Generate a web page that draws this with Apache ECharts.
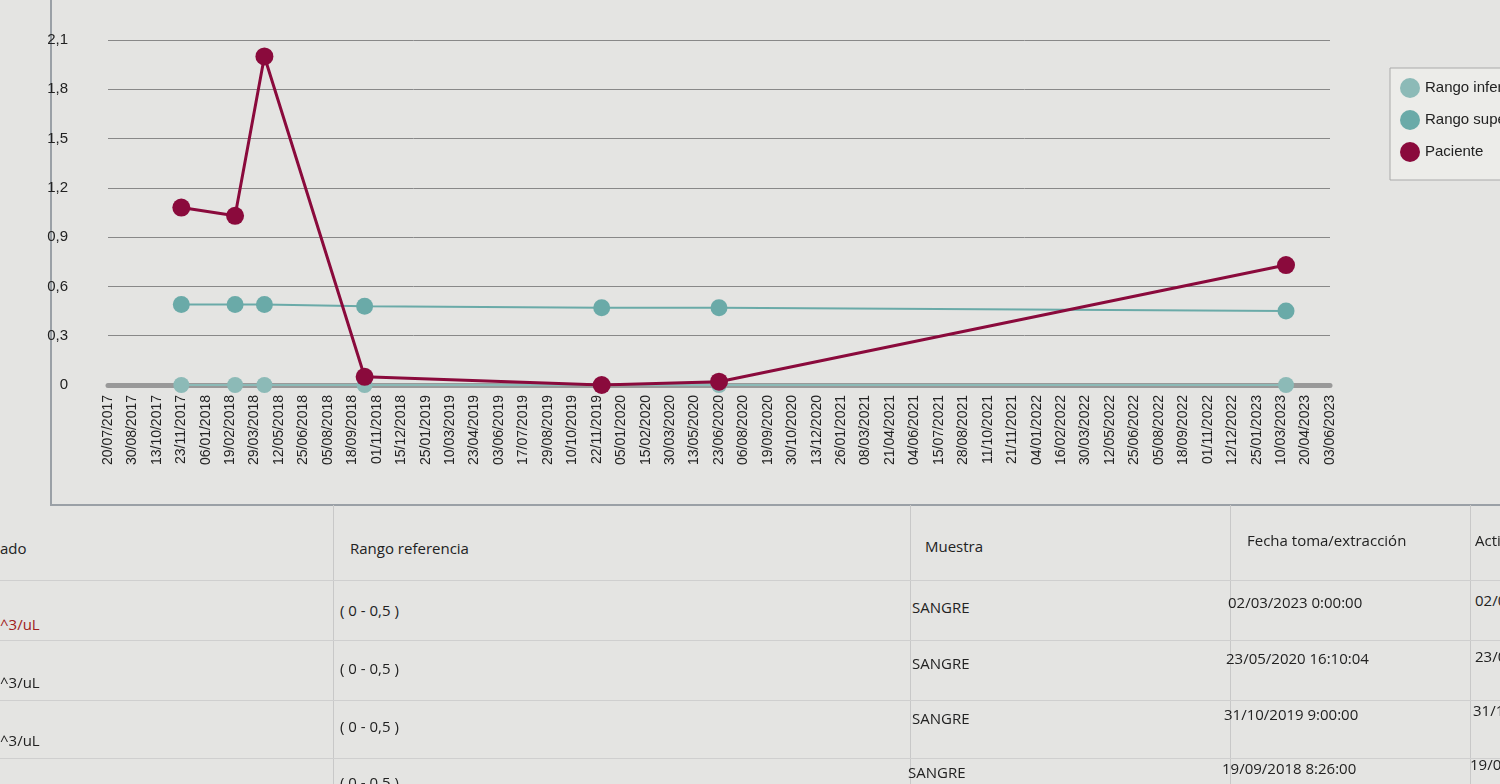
<!DOCTYPE html>
<html>
<head>
<meta charset="utf-8">
<script src="https://cdn.jsdelivr.net/npm/echarts@6/dist/echarts.min.js"></script>
<style>
 body { margin: 0; background: #e4e4e2; font-family: "Open Sans", "DejaVu Sans", sans-serif; overflow: hidden; }
 #main { position: absolute; left: 0; top: 0; width: 1500px; height: 510px; }
 #frame { position: absolute; left: 50px; top: -2px; width: 1460px; height: 508px; border: 2px solid #9aa0a6; box-sizing: border-box; }
 .t { position: absolute; font-size: 15px; color: #222; white-space: nowrap; }
 .v { position: absolute; width: 1px; background: #c8c8c8; top: 505px; height: 280px; }
 .h { position: absolute; height: 1px; background: #cfcfcf; left: 0; width: 1500px; }
</style>
</head>
<body>
<div id="frame"></div>
<div id="main"></div>
<div class="v" style="left:333px"></div><div class="v" style="left:910px"></div>
<div class="v" style="left:1230px"></div><div class="v" style="left:1470px"></div>
<div class="h" style="top:580px"></div><div class="h" style="top:640px"></div>
<div class="h" style="top:700px"></div><div class="h" style="top:758px"></div>
<div class="t" style="left:0;top:538px">ado</div>
<div class="t" style="left:350px;top:538px">Rango referencia</div>
<div class="t" style="left:925px;top:536px">Muestra</div>
<div class="t" style="left:1247px;top:530px">Fecha toma/extracción</div>
<div class="t" style="left:1475px;top:530px">Acti</div>
<div class="t" style="left:0;top:614px;color:#a02020">^3/uL</div>
<div class="t" style="left:0;top:672px">^3/uL</div>
<div class="t" style="left:0;top:730px">^3/uL</div>
<div class="t" style="left:340px;top:600px">( 0 - 0,5 )</div>
<div class="t" style="left:340px;top:658px">( 0 - 0,5 )</div>
<div class="t" style="left:340px;top:716px">( 0 - 0,5 )</div>
<div class="t" style="left:340px;top:772px">( 0 - 0,5 )</div>
<div class="t" style="left:912px;top:597px">SANGRE</div>
<div class="t" style="left:912px;top:653px">SANGRE</div>
<div class="t" style="left:912px;top:708px">SANGRE</div>
<div class="t" style="left:908px;top:762px">SANGRE</div>
<div class="t" style="left:1228px;top:592px">02/03/2023 0:00:00</div>
<div class="t" style="left:1226px;top:648px">23/05/2020 16:10:04</div>
<div class="t" style="left:1224px;top:704px">31/10/2019 9:00:00</div>
<div class="t" style="left:1222px;top:758px">19/09/2018 8:26:00</div>
<div class="t" style="left:1475px;top:590px">02/03/</div>
<div class="t" style="left:1475px;top:646px">23/05/</div>
<div class="t" style="left:1473px;top:700px">31/10/</div>
<div class="t" style="left:1470px;top:754px">19/09/</div>
<script>
var fechas = ['20/07/2017','30/08/2017','13/10/2017','23/11/2017','06/01/2018','19/02/2018','29/03/2018','12/05/2018','25/06/2018','05/08/2018','18/09/2018','01/11/2018','15/12/2018','25/01/2019','10/03/2019','23/04/2019','03/06/2019','17/07/2019','29/08/2019','10/10/2019','22/11/2019','05/01/2020','15/02/2020','30/03/2020','13/05/2020','23/06/2020','06/08/2020','19/09/2020','30/10/2020','13/12/2020','26/01/2021','08/03/2021','21/04/2021','04/06/2021','15/07/2021','28/08/2021','11/10/2021','21/11/2021','04/01/2022','16/02/2022','30/03/2022','12/05/2022','25/06/2022','05/08/2022','18/09/2022','01/11/2022','12/12/2022','25/01/2023','10/03/2023','20/04/2023','03/06/2023'];
// index of each sample on the category axis
var muestras = [3, 5.2, 6.4, 10.5, 20.2, 25, 48.2];
var rangoInferior = [0, 0, 0, 0, 0, 0, 0];
var rangoSuperior = [0.49, 0.49, 0.49, 0.48, 0.47, 0.47, 0.45];
var paciente = [1.08, 1.03, 2.0, 0.05, 0.0, 0.02, 0.73];

function pares(vals) {
  return vals.map(function (v, i) { return [muestras[i], v]; });
}

var myChart = echarts.init(document.getElementById('main'));
myChart.setOption({
  animation: false,
  grid: { left: 108, right: 170, top: 40, bottom: 125 },
  legend: {
    orient: 'vertical', left: 1390, top: 68, itemGap: 12,
    icon: 'circle', itemWidth: 20, itemHeight: 20,
    textStyle: { fontSize: 15, color: '#222' },
    backgroundColor: '#ecece9', borderColor: '#aaa', borderWidth: 1, padding: [10, 10, 18, 10],
    data: ['Rango inferior', 'Rango superior', 'Paciente']
  },
  xAxis: {
    type: 'value', min: 0, max: fechas.length - 1, interval: 1,
    axisLine: { lineStyle: { color: '#999', width: 5 } },
    axisTick: { show: false },
    splitLine: { show: false },
    axisLabel: {
      rotate: 90, fontSize: 14, color: '#222', margin: 10,
      formatter: function (v) { return fechas[v] || ''; }
    }
  },
  yAxis: {
    type: 'value', min: 0, max: 2.1, interval: 0.3,
    axisLine: { show: false }, axisTick: { show: false },
    splitLine: { lineStyle: { color: '#888', width: 1 } },
    axisLabel: {
      fontSize: 15, color: '#222', margin: 40,
      formatter: function (v) { return v === 0 ? '0' : v.toFixed(1).replace('.', ','); }
    }
  },
  series: [
    {
      name: 'Rango inferior', type: 'line', data: pares(rangoInferior),
      symbol: 'circle', symbolSize: 16,
      itemStyle: { color: '#8cbab7' }, lineStyle: { color: '#8cbab7', width: 2 }
    },
    {
      name: 'Rango superior', type: 'line', data: pares(rangoSuperior),
      symbol: 'circle', symbolSize: 17,
      itemStyle: { color: '#6aaaa8' }, lineStyle: { color: '#6aaaa8', width: 2 }
    },
    {
      name: 'Paciente', type: 'line', data: pares(paciente),
      symbol: 'circle', symbolSize: 18,
      itemStyle: { color: '#8a0a3c' }, lineStyle: { color: '#8a0a3c', width: 3 }
    }
  ]
});
</script>
</body>
</html>
